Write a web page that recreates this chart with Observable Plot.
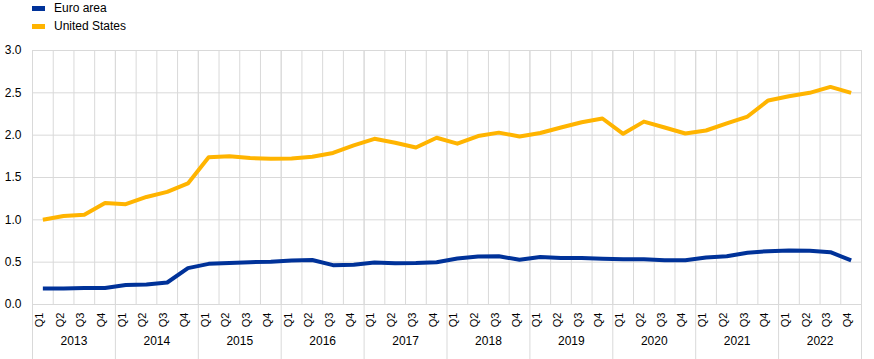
<!DOCTYPE html>
<html>
<head>
<meta charset="utf-8">
<script src="https://cdn.jsdelivr.net/npm/d3@7"></script>
<script src="https://cdn.jsdelivr.net/npm/@observablehq/plot@0.6"></script>
<style>
  html, body { margin: 0; padding: 0; background: #fff; }
  body { width: 874px; height: 359px; overflow: hidden; font-family: "Liberation Sans", Arial, sans-serif; }
  #legend { position: relative; height: 38px; }
  .item { position: absolute; left: 32px; display: flex; align-items: center; font-size: 12px; color: #000; }
  .sw { width: 13px; height: 5px; margin-right: 9px; }
  #chart svg { display: block; }
</style>
</head>
<body>
<div id="legend"></div>
<div id="chart"></div>
<script>
const years = ["2013","2014","2015","2016","2017","2018","2019","2020","2021","2022"];
const quarterNames = ["Q1","Q2","Q3","Q4"];
const seriesNames = ["Euro area", "United States"];
const seriesColors = ["#003299", "#ffb400"];
const yTicks = [0, 0.5, 1.0, 1.5, 2.0, 2.5, 3.0];

const euroArea = [
  0.19, 0.19, 0.195, 0.195,
  0.23, 0.235, 0.26, 0.43,
  0.48, 0.49, 0.50, 0.505,
  0.52, 0.525, 0.465, 0.47,
  0.495, 0.488, 0.49, 0.50,
  0.543, 0.567, 0.57, 0.528,
  0.56, 0.55, 0.55, 0.54,
  0.533, 0.533, 0.523, 0.523,
  0.555, 0.57, 0.612, 0.63,
  0.638, 0.635, 0.618, 0.52
];
const unitedStates = [
  1.00, 1.045, 1.06, 1.20,
  1.185, 1.27, 1.33, 1.43,
  1.74, 1.75, 1.73, 1.72,
  1.725, 1.745, 1.79, 1.88,
  1.957, 1.91, 1.855, 1.97,
  1.90, 1.99, 2.03, 1.985,
  2.025, 2.09, 2.153, 2.197,
  2.016, 2.16, 2.09, 2.02,
  2.055, 2.14, 2.22, 2.41,
  2.46, 2.50, 2.57, 2.50
];

// Build table
const periods = years.flatMap(y => quarterNames.map(q => ({year: y, q})));
const rows = [];
periods.forEach((p, i) => {
  rows.push({i, series: seriesNames[0], value: euroArea[i]});
  rows.push({i, series: seriesNames[1], value: unitedStates[i]});
});
const quarterLabels = periods.map((p, i) => ({i, label: p.q}));
const yearLabels = years.map((y, k) => ({i: k * 4 + 1.5, label: y}));
const quarterBounds = d3.range(periods.length + 1).map(i => i - 0.5);
const yearBounds = d3.range(years.length + 1).map(k => k * 4 - 0.5);

// Legend
const legend = document.getElementById("legend");
seriesNames.forEach((name, k) => {
  const div = document.createElement("div");
  div.className = "item";
  div.style.top = (k === 0 ? 0 : 18) + "px";
  div.style.height = "16px";
  div.innerHTML = `<span class="sw" style="background:${seriesColors[k]}"></span><span>${name}</span>`;
  legend.appendChild(div);
});

const grid = "#d9d9d9";
const chart = Plot.plot({
  width: 874,
  height: 321,
  marginLeft: 32,
  marginRight: 13,
  marginTop: 12,
  marginBottom: 55,
  style: {fontFamily: "Liberation Sans, Arial, sans-serif", fontSize: "12px", color: "#000", background: "#fff"},
  x: {type: "linear", domain: [-0.5, periods.length - 0.5], axis: null},
  y: {domain: [0, 3], axis: null},
  color: {domain: seriesNames, range: seriesColors},
  marks: [
    Plot.gridY(yTicks, {stroke: grid, strokeOpacity: 1}),
    Plot.ruleX(quarterBounds, {stroke: grid, strokeOpacity: 1}),
    Plot.ruleX(yearBounds, {stroke: grid, strokeOpacity: 1, insetBottom: -55}),
    Plot.axisY(yTicks, {tickSize: 0, tickPadding: 11, tickFormat: d3.format(".1f"), fontSize: 12, fill: "#000", label: null}),
    Plot.text(quarterLabels, {x: "i", text: "label", frameAnchor: "bottom", rotate: -90, textAnchor: "end", dy: 8, fontSize: 11, fill: "#000"}),
    Plot.text(yearLabels, {x: "i", text: "label", frameAnchor: "bottom", dy: 40, fontSize: 12, fill: "#000"}),
    Plot.line(rows, {x: "i", y: "value", z: "series", stroke: "series", strokeWidth: 4, strokeLinejoin: "round", strokeLinecap: "butt"})
  ]
});
document.getElementById("chart").appendChild(chart);
</script>
</body>
</html>
